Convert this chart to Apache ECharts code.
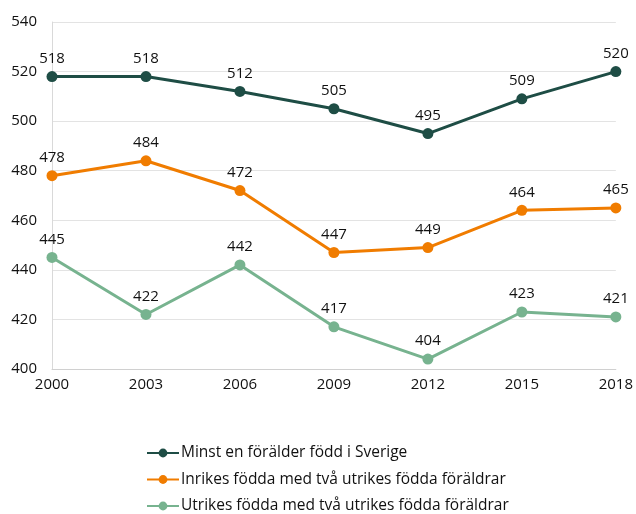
<!DOCTYPE html>
<html><head><meta charset="utf-8">
<script src="https://cdn.jsdelivr.net/npm/echarts@6/dist/echarts.min.js"></script>
<style>html,body{margin:0;padding:0;background:#fff}#c{width:636px;height:514px}</style>
</head><body><div id="c"></div>
<script>
const categories = ['2000','2003','2006','2009','2012','2015','2018'];
const seriesNames = ['Minst en förälder född i Sverige','Inrikes födda med två utrikes födda föräldrar','Utrikes födda med två utrikes födda föräldrar'];
const s1 = [518,518,512,505,495,509,520];
const s2 = [478,484,472,447,449,464,465];
const s3 = [445,422,442,417,404,423,421];
const colors = ['#1e4d45','#f07c00','#77b38f'];
const font = '"Open Sans", sans-serif';
const chart = echarts.init(document.getElementById('c'));
const mk = (name, data, color) => ({
  name, type:'line', data, symbol:'circle', symbolSize:11,
  lineStyle:{width:3,color}, itemStyle:{color},
  label:{show:true,position:'top',distance:5,color:'#111',fontSize:15,fontFamily:font}
});
chart.setOption({
  animation:false,
  grid:{left:52,right:20,top:22,bottom:145,containLabel:false},
  legend:{orient:'vertical',left:141,top:440,height:200,itemGap:10.5,itemWidth:32,itemHeight:11,
    textStyle:{fontSize:15.5,fontFamily:font,color:'#111',padding:[0,0,0,-3]},
    data:seriesNames},
  xAxis:{type:'category',data:categories,boundaryGap:false,
    axisLine:{lineStyle:{color:'#d0d0d0'}},axisTick:{show:false},
    axisLabel:{color:'#111',fontSize:15,fontFamily:font,margin:8}},
  yAxis:{type:'value',min:400,max:540,interval:20,
    axisLine:{show:true,lineStyle:{color:'#d9d9d9'}},axisTick:{show:false},
    splitLine:{lineStyle:{color:'#e3e3e3'}},
    axisLabel:{color:'#111',fontSize:15,fontFamily:font,margin:15}},
  series:[mk(seriesNames[0],s1,colors[0]),mk(seriesNames[1],s2,colors[1]),mk(seriesNames[2],s3,colors[2])]
});
</script></body></html>
